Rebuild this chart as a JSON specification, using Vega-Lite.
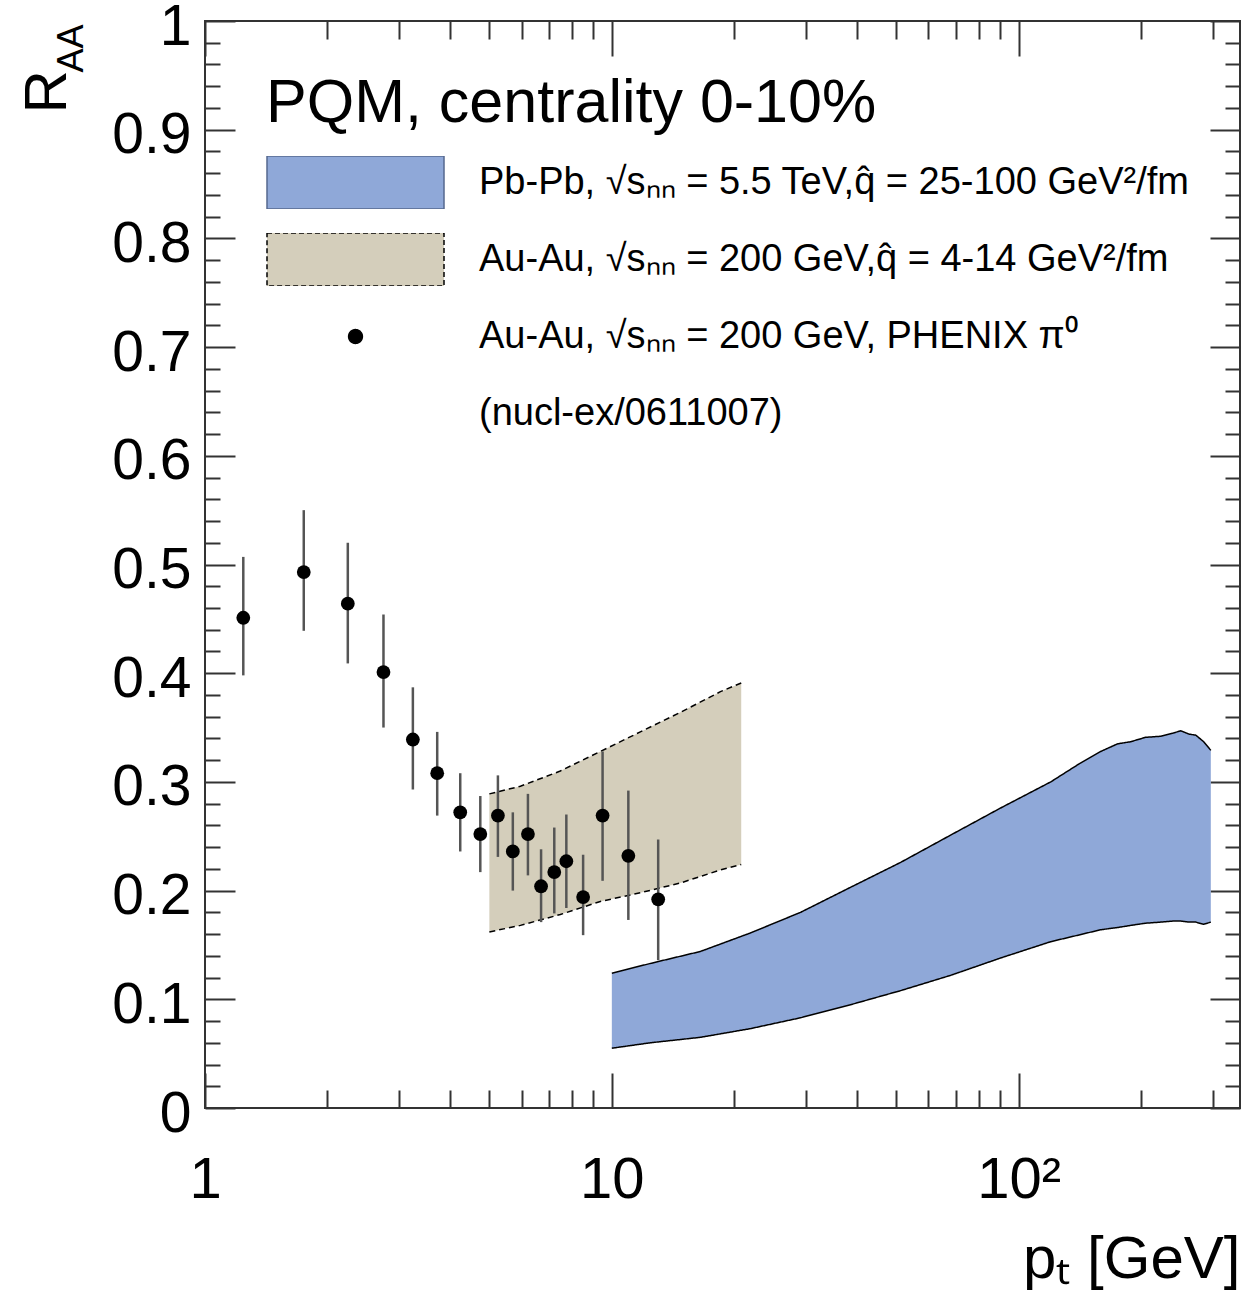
{
  "$schema": "https://vega.github.io/schema/vega-lite/v6.json",
  "width": 1035,
  "height": 1087,
  "autosize": {"type": "none"},
  "padding": {"left": 205, "top": 21, "right": 8, "bottom": 191},
  "background": "white",
  "config": {
    "font": "Liberation Sans",
    "view": {"stroke": "#333", "strokeWidth": 2},
    "axis": {"grid": false, "domain": false, "labelFont": "Liberation Sans", "titleFont": "Liberation Sans", "labelColor": "black", "titleColor": "black", "titleFontWeight": "normal", "tickColor": "#333", "tickWidth": 2, "labelFlush": false, "labelOverlap": false, "labelBound": false}
  },
  "datasets": {
    "bands": [
      {"series": "PbPb", "pt": 10.0, "lo": 0.055, "hi": 0.124},
      {"series": "PbPb", "pt": 12.44, "lo": 0.060, "hi": 0.133},
      {"series": "PbPb", "pt": 16.5, "lo": 0.065, "hi": 0.144},
      {"series": "PbPb", "pt": 21.9, "lo": 0.073, "hi": 0.161},
      {"series": "PbPb", "pt": 29.1, "lo": 0.083, "hi": 0.180},
      {"series": "PbPb", "pt": 38.6, "lo": 0.095, "hi": 0.203},
      {"series": "PbPb", "pt": 51.3, "lo": 0.108, "hi": 0.226},
      {"series": "PbPb", "pt": 68.0, "lo": 0.122, "hi": 0.251},
      {"series": "PbPb", "pt": 90.3, "lo": 0.138, "hi": 0.276},
      {"series": "PbPb", "pt": 119.9, "lo": 0.153, "hi": 0.300},
      {"series": "PbPb", "pt": 140.0, "lo": 0.159, "hi": 0.316},
      {"series": "PbPb", "pt": 159.1, "lo": 0.164, "hi": 0.328},
      {"series": "PbPb", "pt": 175.0, "lo": 0.166, "hi": 0.335},
      {"series": "PbPb", "pt": 188.6, "lo": 0.168, "hi": 0.337},
      {"series": "PbPb", "pt": 205.0, "lo": 0.170, "hi": 0.341},
      {"series": "PbPb", "pt": 223.6, "lo": 0.171, "hi": 0.342},
      {"series": "PbPb", "pt": 240.0, "lo": 0.172, "hi": 0.345},
      {"series": "PbPb", "pt": 250.3, "lo": 0.172, "hi": 0.347},
      {"series": "PbPb", "pt": 262.0, "lo": 0.171, "hi": 0.344},
      {"series": "PbPb", "pt": 272.5, "lo": 0.171, "hi": 0.343},
      {"series": "PbPb", "pt": 285.0, "lo": 0.169, "hi": 0.337},
      {"series": "PbPb", "pt": 296.7, "lo": 0.171, "hi": 0.329},
      {"series": "AuAu", "pt": 5.0, "lo": 0.162, "hi": 0.289},
      {"series": "AuAu", "pt": 5.96, "lo": 0.168, "hi": 0.296},
      {"series": "AuAu", "pt": 7.47, "lo": 0.178, "hi": 0.310},
      {"series": "AuAu", "pt": 9.37, "lo": 0.190, "hi": 0.328},
      {"series": "AuAu", "pt": 11.75, "lo": 0.198, "hi": 0.346},
      {"series": "AuAu", "pt": 14.74, "lo": 0.207, "hi": 0.364},
      {"series": "AuAu", "pt": 18.49, "lo": 0.219, "hi": 0.383},
      {"series": "AuAu", "pt": 20.8, "lo": 0.224, "hi": 0.391}
    ],
    "phenix": [
      {"pt": 1.242, "R": 0.451, "lo": 0.398, "hi": 0.507},
      {"pt": 1.749, "R": 0.493, "lo": 0.439, "hi": 0.550},
      {"pt": 2.244, "R": 0.464, "lo": 0.409, "hi": 0.520},
      {"pt": 2.746, "R": 0.401, "lo": 0.350, "hi": 0.454},
      {"pt": 3.243, "R": 0.339, "lo": 0.293, "hi": 0.387},
      {"pt": 3.722, "R": 0.308, "lo": 0.269, "hi": 0.346},
      {"pt": 4.240, "R": 0.272, "lo": 0.236, "hi": 0.308},
      {"pt": 4.75, "R": 0.252, "lo": 0.217, "hi": 0.287},
      {"pt": 5.248, "R": 0.269, "lo": 0.231, "hi": 0.306},
      {"pt": 5.71, "R": 0.236, "lo": 0.200, "hi": 0.272},
      {"pt": 6.22, "R": 0.252, "lo": 0.214, "hi": 0.289},
      {"pt": 6.70, "R": 0.204, "lo": 0.171, "hi": 0.238},
      {"pt": 7.22, "R": 0.217, "lo": 0.179, "hi": 0.258},
      {"pt": 7.73, "R": 0.227, "lo": 0.184, "hi": 0.270},
      {"pt": 8.50, "R": 0.194, "lo": 0.159, "hi": 0.233},
      {"pt": 9.49, "R": 0.269, "lo": 0.209, "hi": 0.328},
      {"pt": 10.98, "R": 0.232, "lo": 0.173, "hi": 0.292},
      {"pt": 13.0, "R": 0.192, "lo": 0.136, "hi": 0.247}
    ]
  },
  "layer": [
    {
      "data": {"name": "bands"},
      "mark": {"type": "area", "opacity": 1},
      "encoding": {
        "x": {"field": "pt", "type": "quantitative", "scale": {"type": "log", "domain": [1, 350], "nice": false},
          "axis": {"orient": "bottom", "values": [1, 10, 100], "ticks": false, "labelExpr": "datum.value == 100 ? '10²' : format(datum.value, 'd')", "labelFontSize": 58, "labelBaseline": "alphabetic", "labelPadding": 89,
            "title": "pₜ [GeV]", "titleFontSize": 60, "titleAlign": "right", "titleBaseline": "alphabetic", "titleX": 1035, "titleY": 169}},
        "y": {"field": "hi", "type": "quantitative", "scale": {"domain": [0, 1], "nice": false, "zero": false},
          "axis": {"orient": "left", "values": [0, 0.1, 0.2, 0.3, 0.4, 0.5, 0.6, 0.7, 0.8, 0.9, 1], "ticks": false, "format": "~g", "labelFontSize": 57, "labelPadding": 14, "labelBaseline": "middle", "labelOffset": 6,
            "title": "R", "titleFontSize": 60, "titleAngle": 270, "titleAlign": "left", "titleBaseline": "alphabetic", "titleX": -140, "titleY": 92}},
        "y2": {"field": "lo"},
        "fill": {"field": "series", "type": "nominal",
          "scale": {"domain": ["PbPb", "AuAu", "PHENIX", "ref"], "range": ["#8fa8d8", "#d4cebb", "black", "white"]},
          "legend": {
            "orient": "none", "legendX": 61, "legendY": 53, "direction": "vertical", "columns": 1, "padding": 0,
            "title": "PQM, centrality 0-10%", "titleFontSize": 61, "titleFontWeight": "normal", "titleFont": "Liberation Sans", "titleColor": "black", "titleLimit": 2000, "titlePadding": 21,
            "symbolType": {"expr": "datum.value === 'PHENIX' ? 'circle' : 'M-1,-0.3H1V0.3H-1Z'"},
            "symbolSize": {"expr": "datum.value === 'PHENIX' ? 190 : 31329"},
            "symbolStrokeColor": {"expr": "datum.value === 'PbPb' ? '#56688e' : 'black'"},
            "symbolDash": {"expr": "datum.value === 'AuAu' ? [5, 3] : [1, 0]"},
            "symbolOpacity": {"expr": "datum.value === 'ref' ? 0 : 1"},
            "symbolStrokeWidth": 1.5,
            "clipHeight": 53, "rowPadding": 24,
            "labelFontSize": 38, "labelFont": "Liberation Sans", "labelColor": "black", "labelOffset": 34, "labelLimit": 2000,
            "labelExpr": "datum.value === 'PbPb' ? 'Pb-Pb, √sₙₙ = 5.5 TeV,q̂ = 25-100 GeV²/fm' : datum.value === 'AuAu' ? 'Au-Au, √sₙₙ = 200 GeV,q̂ = 4-14 GeV²/fm' : datum.value === 'PHENIX' ? 'Au-Au, √sₙₙ = 200 GeV, PHENIX π⁰' : '(nucl-ex/0611007)'"
          }
        }
      }
    },
    {
      "data": {"name": "bands"},
      "mark": {"type": "line", "color": "black", "strokeWidth": 1.5},
      "encoding": {
        "x": {"field": "pt", "type": "quantitative", "scale": {"type": "log", "domain": [1, 350], "nice": false},
          "axis": {"orient": "bottom", "values": [1, 10, 100], "labels": false, "tickSize": -35, "title": null}},
        "y": {"field": "hi", "type": "quantitative", "scale": {"domain": [0, 1], "nice": false, "zero": false},
          "axis": {"orient": "left", "values": [0, 0.1, 0.2, 0.3, 0.4, 0.5, 0.6, 0.7, 0.8, 0.9, 1], "labels": false, "tickSize": -30, "title": null}},
        "detail": {"field": "series", "type": "nominal"},
        "strokeDash": {"field": "series", "type": "nominal", "scale": {"domain": ["PbPb", "AuAu"], "range": [[1, 0], [6, 4]]}, "legend": null}
      }
    },
    {
      "data": {"name": "bands"},
      "mark": {"type": "line", "color": "black", "strokeWidth": 1.5},
      "encoding": {
        "x": {"field": "pt", "type": "quantitative", "scale": {"type": "log", "domain": [1, 350], "nice": false},
          "axis": {"orient": "bottom", "values": [2, 3, 4, 5, 6, 7, 8, 9, 20, 30, 40, 50, 60, 70, 80, 90, 200, 300], "labels": false, "tickSize": -18, "title": null}},
        "y": {"field": "lo", "type": "quantitative", "scale": {"domain": [0, 1], "nice": false, "zero": false},
          "axis": {"orient": "left", "values": [0.02, 0.04, 0.06, 0.08, 0.12, 0.14, 0.16, 0.18, 0.22, 0.24, 0.26, 0.28, 0.32, 0.34, 0.36, 0.38, 0.42, 0.44, 0.46, 0.48, 0.52, 0.54, 0.56, 0.58, 0.62, 0.64, 0.66, 0.68, 0.72, 0.74, 0.76, 0.78, 0.82, 0.84, 0.86, 0.88, 0.92, 0.94, 0.96, 0.98], "labels": false, "tickSize": -15,
            "title": "AA", "titleFontSize": 36, "titleAngle": 270, "titleAlign": "left", "titleBaseline": "alphabetic", "titleX": -123, "titleY": 51}},
        "detail": {"field": "series", "type": "nominal"},
        "strokeDash": {"field": "series", "type": "nominal", "scale": {"domain": ["PbPb", "AuAu"], "range": [[1, 0], [6, 4]]}, "legend": null}
      }
    },
    {
      "data": {"name": "phenix"},
      "mark": {"type": "rule", "color": "#555", "strokeWidth": 2.5},
      "encoding": {
        "x": {"field": "pt", "type": "quantitative", "scale": {"type": "log", "domain": [1, 350], "nice": false},
          "axis": {"orient": "top", "values": [1, 10, 100], "labels": false, "tickSize": -35, "title": null}},
        "y": {"field": "lo", "type": "quantitative", "scale": {"domain": [0, 1], "nice": false, "zero": false},
          "axis": {"orient": "right", "values": [0, 0.1, 0.2, 0.3, 0.4, 0.5, 0.6, 0.7, 0.8, 0.9, 1], "labels": false, "tickSize": -30, "title": null}},
        "y2": {"field": "hi"}
      }
    },
    {
      "data": {"name": "phenix"},
      "mark": {"type": "point", "shape": "circle", "filled": true, "color": "black", "opacity": 1, "size": 190},
      "encoding": {
        "x": {"field": "pt", "type": "quantitative", "scale": {"type": "log", "domain": [1, 350], "nice": false},
          "axis": {"orient": "top", "values": [2, 3, 4, 5, 6, 7, 8, 9, 20, 30, 40, 50, 60, 70, 80, 90, 200, 300], "labels": false, "tickSize": -18, "title": null}},
        "y": {"field": "R", "type": "quantitative", "scale": {"domain": [0, 1], "nice": false, "zero": false},
          "axis": {"orient": "right", "values": [0.02, 0.04, 0.06, 0.08, 0.12, 0.14, 0.16, 0.18, 0.22, 0.24, 0.26, 0.28, 0.32, 0.34, 0.36, 0.38, 0.42, 0.44, 0.46, 0.48, 0.52, 0.54, 0.56, 0.58, 0.62, 0.64, 0.66, 0.68, 0.72, 0.74, 0.76, 0.78, 0.82, 0.84, 0.86, 0.88, 0.92, 0.94, 0.96, 0.98], "labels": false, "tickSize": -15, "title": null}}
      }
    }
  ],
  "resolve": {"scale": {"x": "independent", "y": "independent"}}
}
